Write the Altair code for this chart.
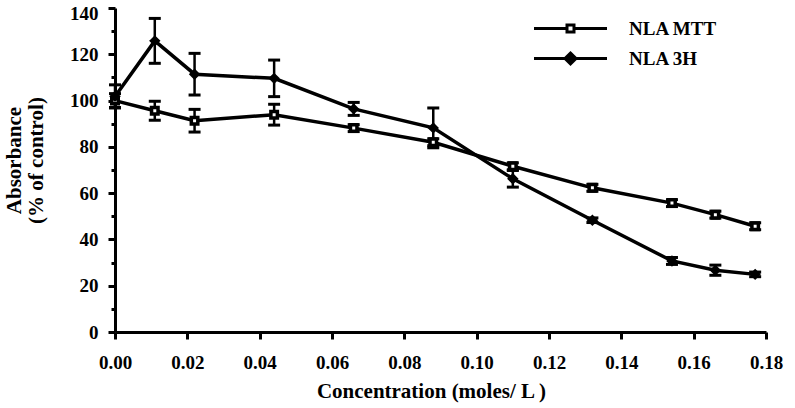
import altair as alt
import pandas as pd

# Concentration (moles/L)
conc = [0.0, 0.011, 0.022, 0.044, 0.066, 0.088, 0.110, 0.132, 0.154, 0.166, 0.177]
# NLA MTT absorbance (% of control) and error
mtt = [100.0, 95.6, 91.3, 93.9, 88.1, 82.0, 71.6, 62.3, 55.7, 50.7, 45.7]
mtt_err = [3.0, 4.1, 4.9, 4.5, 1.5, 1.5, 1.5, 1.5, 1.5, 1.5, 1.5]
# NLA 3H absorbance (% of control) and error
h3 = [101.8, 125.8, 111.4, 109.6, 96.4, 88.2, 66.2, 48.3, 30.7, 26.7, 24.9]
h3_err = [5.0, 9.7, 9.0, 7.9, 2.8, 8.6, 3.6, 1.0, 1.5, 2.2, 1.0]

series_names = ["NLA MTT", "NLA 3H"]
x_ticks = [0.0, 0.02, 0.04, 0.06, 0.08, 0.10, 0.12, 0.14, 0.16, 0.18]
y_ticks = [0, 10, 20, 30, 40, 50, 60, 70, 80, 90, 100, 110, 120, 130, 140]

rows = []
for name, vals, errs in [(series_names[0], mtt, mtt_err), (series_names[1], h3, h3_err)]:
    for c, v, e in zip(conc, vals, errs):
        rows.append({"conc": c, "val": v, "lo": v - e, "hi": v + e, "series": name})
df = pd.DataFrame(rows)

FONT = "Liberation Serif"

x_axis = alt.Axis(
    values=x_ticks, format=".2f", tickSize=7, labelPadding=14, labelFlush=False,
    title="Concentration (moles/ L )", titleX=316, titleY=65,
    titleBaseline="alphabetic", titleAnchor="start", titleAlign="center",
)
y_axis = alt.Axis(
    values=y_ticks, labelFlush=False,
    labelExpr="datum.value % 20 === 0 ? datum.label : ''",
    tickSize={"condition": {"test": "datum.value % 20 === 0", "value": 7}, "value": 4},
    labelOffset={"condition": {"test": "datum.value === 140", "value": 5}, "value": 0},
    labelPadding=10,
    title=["Absorbance", "(% of control)"], titleAngle=270,
    titleX=-95, titleY=152, titleBaseline="alphabetic", titleAlign="center",
    titleLineHeight=22,
)

xs = alt.Scale(domain=[0, 0.18], nice=False, zero=False)
ys = alt.Scale(domain=[0, 140], nice=False)

X = alt.X("conc:Q", scale=xs, axis=x_axis)
base = alt.Chart(df)

lines = base.mark_line(color="black", strokeWidth=3.5).encode(
    x=X, y=alt.Y("val:Q", scale=ys, axis=y_axis), detail="series:N",
)

err_rule = base.mark_rule(color="black", strokeWidth=2.5).encode(
    x=X, y=alt.Y("lo:Q", scale=ys, axis=y_axis), y2="hi:Q",
)
cap_lo = base.mark_tick(color="black", orient="horizontal", size=12, thickness=3, opacity=1).encode(
    x=X, y=alt.Y("lo:Q", scale=ys, axis=y_axis),
)
cap_hi = base.mark_tick(color="black", orient="horizontal", size=12, thickness=3, opacity=1).encode(
    x=X, y=alt.Y("hi:Q", scale=ys, axis=y_axis),
)

points = base.mark_point(filled=True, stroke="black", strokeWidth=3.5, size=42, opacity=1).encode(
    x=X, y=alt.Y("val:Q", scale=ys, axis=y_axis),
    shape=alt.Shape("series:N", scale=alt.Scale(domain=series_names, range=["square", "diamond"]), legend=None),
    fill=alt.Fill("series:N", scale=alt.Scale(domain=series_names, range=["white", "black"]), legend=None),
)

# legend-only layer: symbol = line segment with marker
mtt_path = "M-7.3,0H-0.8M0.8,0H7.3M-0.7,-0.7H0.7V0.7H-0.7Z"
h3_path = "M-7.3,0H7.3M0,-1.1L1.1,0L0,1.1L-1.1,0Z"

legend = alt.Legend(
    title=None, orient="none", legendX=446, legendY=11, padding=0,
    symbolSize=100, labelOffset=49, rowPadding=8,
    symbolStrokeColor="black", symbolStrokeWidth=3, symbolOpacity=1,
    labelFont=FONT, labelFontWeight="bold", labelFontSize=19, labelColor="black",
)

legend_layer = base.transform_filter("false").mark_point(
    filled=True, stroke="black", strokeWidth=3, size=100, opacity=1
).encode(
    x=X, y=alt.Y("val:Q", scale=ys, axis=y_axis),
    shape=alt.Shape("series:N", scale=alt.Scale(domain=series_names, range=[mtt_path, h3_path]), legend=legend),
    fill=alt.Fill("series:N", scale=alt.Scale(domain=series_names, range=["white", "black"]), legend=legend),
    stroke=alt.Stroke("series:N", scale=alt.Scale(domain=series_names, range=["black", "black"]), legend=legend),
)

chart = alt.layer(err_rule, cap_lo, cap_hi, lines, points, legend_layer).resolve_scale(
    shape="independent", fill="independent", stroke="independent"
).resolve_legend(shape="independent", fill="independent", stroke="independent").properties(
    width=651, height=324,
    autosize=alt.AutoSizeParams(type="none"),
    padding={"left": 115, "top": 8, "right": 29, "bottom": 76},
    background="white",
).configure_view(strokeWidth=0).configure_axis(
    grid=False,
    labelFont=FONT, labelFontWeight="bold", labelFontSize=19, labelColor="black",
    titleFont=FONT, titleFontWeight="bold", titleFontSize=21, titleColor="black",
    domainColor="black", domainWidth=3, tickColor="black", tickWidth=3,
)

chart.save("out.html", embed_options={"renderer": "svg", "actions": False})
